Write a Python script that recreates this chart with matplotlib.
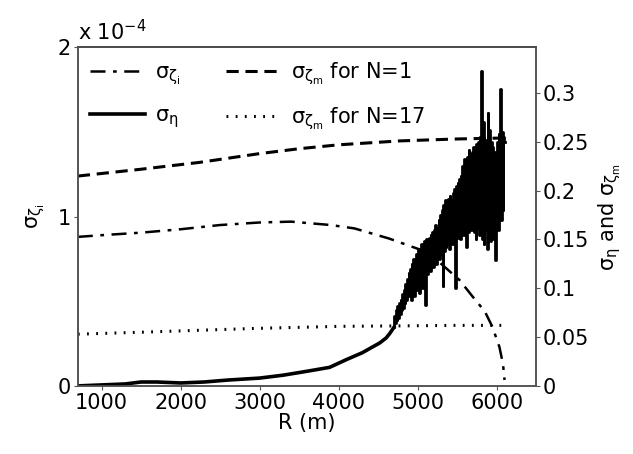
import matplotlib
matplotlib.use('Agg')
import matplotlib.pyplot as plt
import numpy as np

plt.rcParams['font.family'] = ['DejaVu Sans']
plt.rcParams['mathtext.fontset'] = 'custom'
plt.rcParams['mathtext.rm'] = 'DejaVu Sans'
plt.rcParams['mathtext.it'] = 'DejaVu Sans'
plt.rcParams['mathtext.bf'] = 'DejaVu Sans:bold'

# sigma_zeta_i (left axis, units of 1e-4)
r_zi = [700, 1000, 1500, 2000, 2500, 3000, 3400, 3900, 4200, 4640, 5060,
        5300, 5530, 5700, 5850, 5945, 6035, 6080, 6100]
s_zi = [0.88, 0.89, 0.905, 0.925, 0.95, 0.965, 0.97, 0.95, 0.93, 0.87, 0.80,
        0.72, 0.625, 0.525, 0.44, 0.35, 0.23, 0.13, 0.035]

# sigma_zeta_m for N=1 and N=17 (right axis)
r_zm = [700, 1500, 2240, 3000, 3500, 4000, 4770, 5500, 6100]
s_zm1 = [0.215, 0.222, 0.229, 0.238, 0.243, 0.247, 0.251, 0.253, 0.254]
s_zm17 = [0.053, 0.055, 0.057, 0.059, 0.060, 0.061, 0.0615, 0.062, 0.062]

# sigma_eta (right axis): smooth part up to 4700 m
r_eta_s = [700, 1000, 1300, 1500, 1700, 2000, 2300, 2600, 3000, 3300, 3600,
           3886, 4100, 4300, 4520, 4600, 4650, 4700]
s_eta_s = [0.000, 0.001, 0.002, 0.004, 0.004, 0.003, 0.004, 0.006, 0.008,
           0.011, 0.015, 0.019, 0.027, 0.034, 0.044, 0.049, 0.054, 0.060]

# sigma_eta noisy part, every 10 m from 4700 to 6100
r_eta_n = list(range(4700, 6101, 10))
s_eta_n = [
    0.060, 0.072, 0.064, 0.078, 0.068, 0.082, 0.070, 0.085, 0.074, 0.088,
    0.078, 0.094, 0.080, 0.098, 0.085, 0.104, 0.088, 0.110, 0.092, 0.116,
    0.095, 0.120, 0.088, 0.125, 0.100, 0.130, 0.092, 0.128, 0.105, 0.135,
    0.098, 0.140, 0.095, 0.137, 0.108, 0.145, 0.100, 0.142, 0.112, 0.148,
    0.083, 0.150, 0.115, 0.146, 0.120, 0.152, 0.118, 0.155, 0.125, 0.158,
    0.122, 0.160, 0.128, 0.165, 0.125, 0.162, 0.132, 0.170, 0.130, 0.175,
    0.135, 0.180, 0.102, 0.185, 0.138, 0.190, 0.142, 0.182, 0.145, 0.192,
    0.140, 0.195, 0.148, 0.190, 0.145, 0.198, 0.150, 0.202, 0.100, 0.205,
    0.152, 0.208, 0.155, 0.212, 0.150, 0.215, 0.158, 0.225, 0.155, 0.232,
    0.160, 0.228, 0.142, 0.235, 0.158, 0.242, 0.165, 0.238, 0.160, 0.240,
    0.165, 0.245, 0.158, 0.240, 0.150, 0.248, 0.162, 0.250, 0.155, 0.255,
    0.165, 0.323, 0.150, 0.270, 0.145, 0.240, 0.160, 0.252, 0.140, 0.280,
    0.160, 0.262, 0.148, 0.250, 0.155, 0.245, 0.150, 0.240, 0.135, 0.129,
    0.165, 0.250, 0.160, 0.258, 0.175, 0.304, 0.170, 0.260, 0.180, 0.255,
    0.250]

fs = 15
fig = plt.figure(figsize=(6.33, 4.54), dpi=100)
ax = fig.add_axes([0.123, 0.150, 0.724, 0.746])
ax2 = ax.twinx()

l1, = ax.plot(r_zi, s_zi, color='k', lw=1.8, dashes=(6, 3, 1.5, 3))
l2, = ax2.plot(r_eta_s, s_eta_s, color='k', lw=2.6)
ax2.plot(r_eta_n, s_eta_n, color='k', lw=2.0, drawstyle='steps-mid')
l3, = ax2.plot(r_zm, s_zm1, color='k', lw=2.2, dashes=(4, 2.2))
l4, = ax2.plot(r_zm, s_zm17, color='k', lw=2.2, dashes=(0.6, 2.4))

ax.set_xlim(700, 6500)
ax.set_ylim(0, 2)
ax2.set_ylim(0, 0.347)
ax.set_xticks([1000, 2000, 3000, 4000, 5000, 6000])
ax.set_yticks([0, 1, 2])
ax2.set_yticks([0, 0.05, 0.1, 0.15, 0.2, 0.25, 0.3])
ax2.set_yticklabels(['0', '0.05', '0.1', '0.15', '0.2', '0.25', '0.3'])

for a in (ax, ax2):
    a.tick_params(labelsize=fs, direction='out', length=3, color='#555555', pad=2)
    for sp in a.spines.values():
        sp.set_color('#555555')
        sp.set_linewidth(1.2)
ax.spines['top'].set_color('k')

ax.set_xlabel('R (m)', fontsize=fs, labelpad=0)
ax.set_ylabel(r'$\sigma_{\zeta_i}$', fontsize=fs, labelpad=8)
ax2.set_ylabel(r'$\sigma_\eta$ and $\sigma_{\zeta_m}$', fontsize=fs, labelpad=5)
ax.text(0.0, 1.01, r'x 10$^{-4}$', transform=ax.transAxes, fontsize=fs,
        ha='left', va='bottom')

ax2.legend([l1, l2, l3, l4],
           [r'$\sigma_{\zeta_i}$', r'$\sigma_\eta$',
            r'$\sigma_{\zeta_m}$ for N=1', r'$\sigma_{\zeta_m}$ for N=17'],
           ncol=2, loc='upper left', frameon=False, fontsize=fs,
           handlelength=2.6, columnspacing=2.2, handletextpad=0.5,
           labelspacing=0.9, borderaxespad=0.2)

fig.savefig('out.png', dpi=100)
